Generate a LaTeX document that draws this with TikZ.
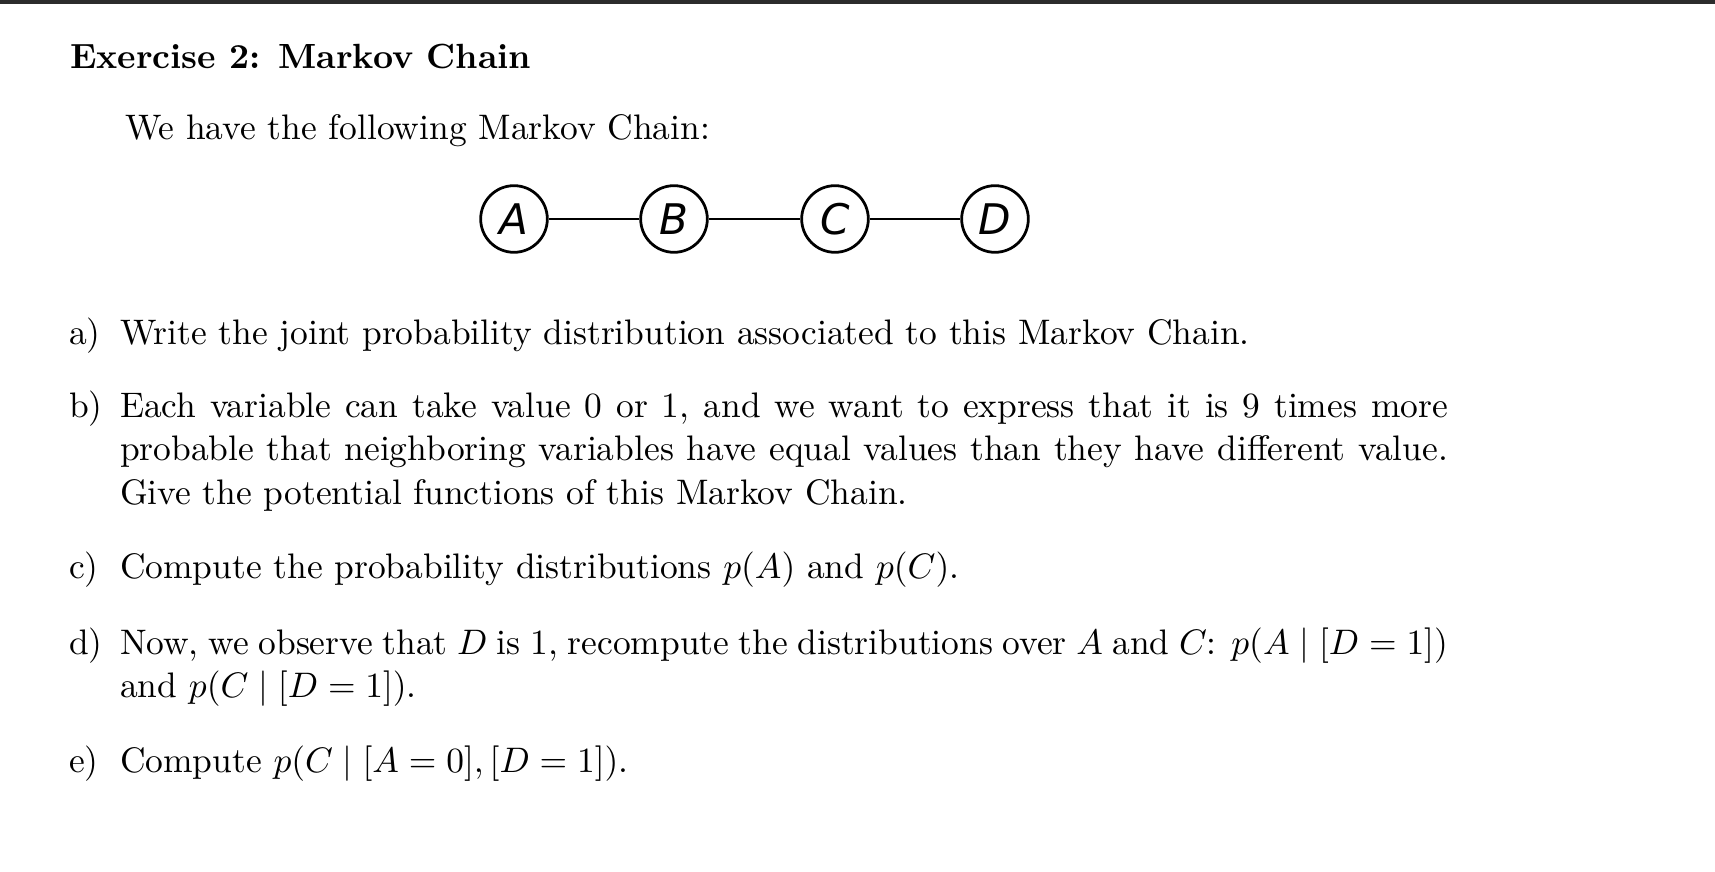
\documentclass[tikz,border=0pt]{standalone}
\usepackage{fontspec}
\newfontfamily\graphfont{DejaVu Sans}
\definecolor{topbar}{HTML}{2C2C2C}
\begin{document}
\begin{tikzpicture}[x=0.28209pt, y=-0.28209pt,
  txt/.style={anchor=base west, inner sep=0pt, outer sep=0pt},
  var/.style={circle, draw=black, line width=0.78pt, minimum size=18.8pt, inner sep=0pt,
    font=\graphfont\itshape\fontsize{11.9pt}{12pt}\selectfont},
  link/.style={line width=0.72pt}]
\useasboundingbox (0,0) rectangle (1715,872);
\fill[white] (0,0) rectangle (1715,872);
\fill[topbar] (0,0) rectangle (1715,4);

\node[txt] (title) at (70,69) {\fontsize{9.87pt}{12pt}\selectfont\bfseries Exercise 2: Markov Chain};
\node[txt] (intro) at (125,140) {We have the following Markov Chain:};

\node[var] (A) at (514,219) {A};
\node[var] (B) at (674,219) {B};
\node[var] (C) at (835,219) {C};
\node[var] (D) at (995,219) {D};
\draw[link] (A) -- (B);
\draw[link] (B) -- (C);
\draw[link] (C) -- (D);

\node[txt] (la) at (69,345) {a)};
\node[txt] (ta) at (120,345) {Write the joint probability distribution associated to this Markov Chain.};

\node[txt] (lb) at (69,418) {b)};
\node[txt] (tb1) at (120,418) {\makebox[374.6pt][s]{Each variable can take value 0 or 1, and we want to express that it is 9 times more}};
\node[txt] (tb2) at (120,461) {\makebox[374.6pt][s]{probable that neighboring variables have equal values than they have different value.}};
\node[txt] (tb3) at (120,505) {Give the potential functions of this Markov Chain.};

\node[txt] (lc) at (69,579) {c)};
\node[txt] (tc) at (120,579) {Compute the probability distributions $p(A)$ and $p(C)$.};

\node[txt] (ld) at (69,655) {d)};
\node[txt] (td1) at (120,655) {\makebox[374.6pt][s]{Now, we observe that $D$ is 1, recompute the distributions over $A$ and $C$: $p(A\mid[D=1])$}};
\node[txt] (td2) at (120,698) {and $p(C\mid[D=1])$.};

\node[txt] (le) at (69,773) {e)};
\node[txt] (te) at (120,773) {Compute $p(C\mid[A=0],[D=1])$.};
\end{tikzpicture}
\end{document}
